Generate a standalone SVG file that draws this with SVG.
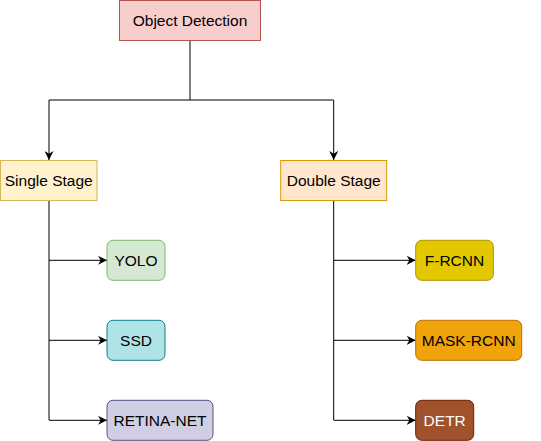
<svg xmlns="http://www.w3.org/2000/svg" width="541" height="441" viewBox="0 0 541 441">
<defs>
<marker id="arr" viewBox="0 0 10 10" refX="10" refY="5" markerWidth="9" markerHeight="9" markerUnits="userSpaceOnUse" orient="auto">
<path d="M0,0 L10,5 L0,10 L3,5 Z" fill="#000"/>
</marker>
<style>
text{font-family:"Liberation Sans",Arial,sans-serif;font-size:15.5px;text-anchor:middle;dominant-baseline:central;fill:#000}
.c{fill:none;stroke:#000;stroke-width:1}
</style>
</defs>
<rect width="541" height="441" fill="#fff"/>
<g id="connectors">
<polyline class="c" points="190,40.5 190,100 49,100 49,160" marker-end="url(#arr)"/>
<polyline class="c" points="190,100 333.7,100 333.7,160" marker-end="url(#arr)"/>
<polyline class="c" points="49,200.5 49,420"/>
<line class="c" x1="49" y1="260.3" x2="107" y2="260.3" marker-end="url(#arr)"/>
<line class="c" x1="49" y1="340.3" x2="107" y2="340.3" marker-end="url(#arr)"/>
<line class="c" x1="49" y1="420.3" x2="107" y2="420.3" marker-end="url(#arr)"/>
<polyline class="c" points="333.7,200.5 333.7,420"/>
<line class="c" x1="333.7" y1="260.3" x2="415.7" y2="260.3" marker-end="url(#arr)"/>
<line class="c" x1="333.7" y1="340.3" x2="415.7" y2="340.3" marker-end="url(#arr)"/>
<line class="c" x1="333.7" y1="420.3" x2="415.7" y2="420.3" marker-end="url(#arr)"/>
</g>
<g id="object-detection">
<rect x="119.5" y="0.5" width="141" height="40" fill="#f8cecc" stroke="#b85450"/>
<text x="190" y="20.5">Object Detection</text>
</g>
<g id="single-stage">
<rect x="0.5" y="160.5" width="96.5" height="40" fill="#fff2cc" stroke="#d6b656"/>
<text x="48.7" y="180.5">Single Stage</text>
</g>
<g id="double-stage">
<rect x="280.7" y="160.5" width="106" height="40" fill="#ffe6cc" stroke="#d79b00"/>
<text x="333.7" y="180.5">Double Stage</text>
</g>
<g id="yolo">
<rect x="107" y="240.3" width="58" height="40" rx="6" fill="#d5e8d4" stroke="#82b366"/>
<text x="136" y="260.3">YOLO</text>
</g>
<g id="ssd">
<rect x="107" y="320.3" width="58" height="40" rx="6" fill="#b0e3e6" stroke="#0e8088"/>
<text x="136" y="340.3">SSD</text>
</g>
<g id="retina-net">
<rect x="107" y="400.3" width="106" height="40" rx="6" fill="#d0cee2" stroke="#56517e"/>
<text x="160" y="420.3">RETINA-NET</text>
</g>
<g id="f-rcnn">
<rect x="415.7" y="240.3" width="77.6" height="40" rx="6" fill="#e3c800" stroke="#b09500"/>
<text x="454.5" y="260.3">F-RCNN</text>
</g>
<g id="mask-rcnn">
<rect x="415.7" y="320.3" width="106" height="40" rx="6" fill="#f0a30a" stroke="#bd7000"/>
<text x="468.7" y="340.3">MASK-RCNN</text>
</g>
<g id="detr">
<rect x="415.7" y="400.3" width="58" height="40" rx="6" fill="#a0522d" stroke="#6d1f00"/>
<text x="444.7" y="420.3" style="fill:#fff">DETR</text>
</g>
</svg>
